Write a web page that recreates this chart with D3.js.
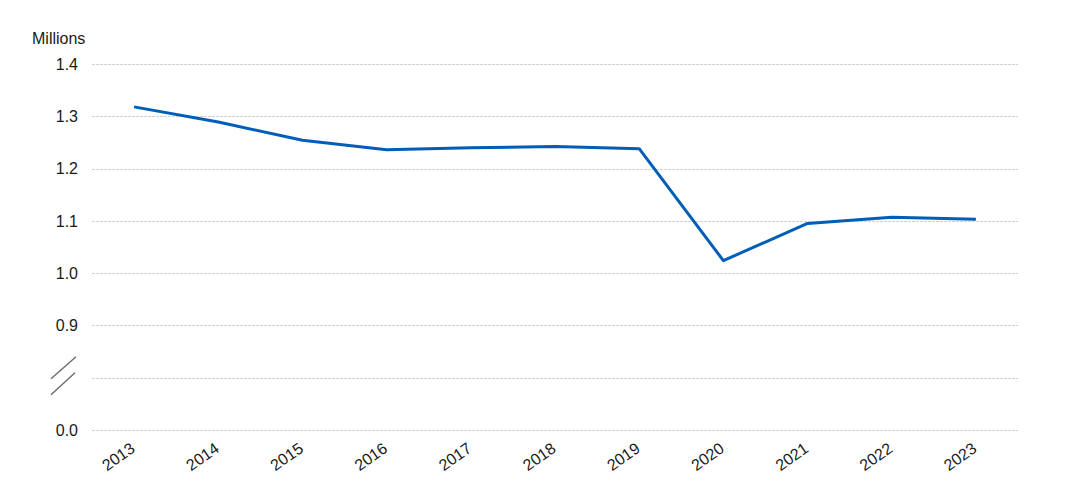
<!DOCTYPE html>
<html>
<head>
<meta charset="utf-8">
<script src="https://cdn.jsdelivr.net/npm/d3@7"></script>
<style>
  body { margin: 0; background: #fff; }
  svg { font-family: "Liberation Sans", Arial, sans-serif; }
</style>
</head>
<body>
<svg id="chart" width="1081" height="502"></svg>
<script>
// data
var years = ["2013", "2014", "2015", "2016", "2017", "2018", "2019", "2020", "2021", "2022", "2023"];
var values = [1.318, 1.289, 1.254, 1.236, 1.240, 1.242, 1.238, 1.024, 1.095, 1.107, 1.103];
var yTicks = [0, 0.8, 0.9, 1.0, 1.1, 1.2, 1.3, 1.4];
var yLabels = ["0.0", "", "0.9", "1.0", "1.1", "1.2", "1.3", "1.4"];

var margin = {top: 64, right: 63, bottom: 72, left: 92},
    width = 1081 - margin.left - margin.right,
    height = 502 - margin.top - margin.bottom;

var svg = d3.select("#chart");
var plot = svg.append("g")
    .attr("transform", `translate(${margin.left}, ${margin.top})`);

var x = d3.scalePoint()
    .domain(years)
    .range([0, width])
    .padding(0.5);

// broken axis: 0 -> 0.8 squeezed into one step, then linear up to 1.4
var y = d3.scaleLinear()
    .domain([0, 0.8, 1.4])
    .range([height, height - height / 7, 0]);

// gridlines
plot.selectAll("line.grid")
    .data(yTicks)
    .enter()
    .append("line")
    .attr("class", "grid")
    .attr("x1", 0)
    .attr("x2", width)
    .attr("y1", d => Math.round(y(d)) + 0.5)
    .attr("y2", d => Math.round(y(d)) + 0.5)
    .attr("stroke", "#d2d2d2")
    .attr("stroke-width", 1)
    .attr("stroke-dasharray", "3,1");

// y labels
plot.selectAll("text.ylab")
    .data(yTicks)
    .enter()
    .append("text")
    .attr("class", "ylab")
    .attr("x", -14)
    .attr("y", d => y(d))
    .attr("dy", "0.36em")
    .attr("text-anchor", "end")
    .attr("font-size", 16)
    .attr("fill", "#1a1a1a")
    .text((d, i) => yLabels[i]);

// axis break marks
var by = y(0.8);
[[-41, by + 1, -16, by - 21], [-41, by + 17, -17, by - 5]].forEach(function(s) {
    plot.append("line")
        .attr("x1", s[0]).attr("y1", s[1])
        .attr("x2", s[2]).attr("y2", s[3])
        .attr("stroke", "#666")
        .attr("stroke-width", 1.3);
});

// unit label
svg.append("text")
    .attr("x", 32)
    .attr("y", 44)
    .attr("font-size", 16)
    .attr("fill", "#1a1a1a")
    .text("Millions");

// x labels
plot.selectAll("text.xlab")
    .data(years)
    .enter()
    .append("text")
    .attr("class", "xlab")
    .attr("text-anchor", "end")
    .attr("font-size", 16)
    .attr("fill", "#1a1a1a")
    .attr("transform", d => `translate(${x(d) + 2}, ${height + 21}) rotate(-35)`)
    .text(d => d);

// the line
var line = d3.line()
    .x((d, i) => x(years[i]))
    .y(d => y(d));

plot.append("path")
    .datum(values)
    .attr("fill", "none")
    .attr("stroke", "#005eb8")
    .attr("stroke-width", 3)
    .attr("stroke-linejoin", "round")
    .attr("d", line);
</script>
</body>
</html>
